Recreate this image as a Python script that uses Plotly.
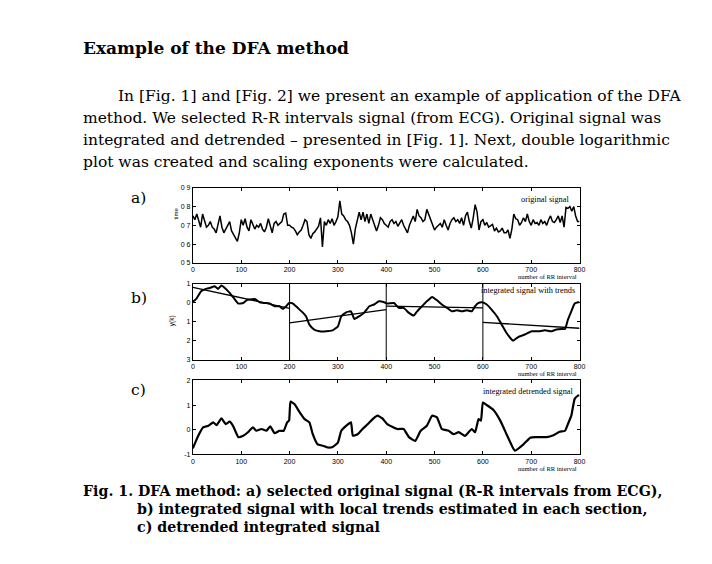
import numpy as np
import plotly.graph_objects as go

W, H = 712, 564
# the page body adds a small margin round the figure
OFF_X, OFF_Y = 8, 9

# a) original signal: R-R interval length, read every 4th interval
rr_step = 4
rr_values = [
    0.75, 0.73, 0.76, 0.72, 0.69, 0.76, 0.72, 0.69, 0.70, 0.72, 0.69, 0.68, 0.66, 0.71, 0.75, 0.69,
    0.66, 0.68, 0.70, 0.72, 0.67, 0.65, 0.63, 0.615, 0.66,
    0.73, 0.70, 0.735, 0.69, 0.67, 0.73, 0.70, 0.68, 0.70, 0.69, 0.71, 0.68, 0.665, 0.69, 0.735, 0.69,
    0.66, 0.71, 0.72, 0.70, 0.71, 0.72, 0.76, 0.765, 0.70,
    0.70, 0.69, 0.685, 0.67, 0.65, 0.665, 0.675, 0.70, 0.73, 0.72, 0.65, 0.63, 0.655, 0.665, 0.68, 0.695,
    0.74, 0.585, 0.72, 0.70, 0.73, 0.71, 0.735, 0.70, 0.72,
    0.745, 0.83, 0.76, 0.75, 0.73, 0.72, 0.70, 0.66, 0.60, 0.68, 0.72, 0.77, 0.73, 0.77, 0.72, 0.76,
    0.71, 0.76, 0.73, 0.70, 0.67, 0.70, 0.74, 0.73, 0.71,
    0.70, 0.69, 0.72, 0.73, 0.71, 0.72, 0.695, 0.71, 0.73, 0.70, 0.68, 0.66, 0.70, 0.73, 0.75, 0.72,
    0.785, 0.75, 0.74, 0.72, 0.73, 0.785, 0.76, 0.73, 0.70,
    0.675, 0.69, 0.70, 0.71, 0.69, 0.73, 0.70, 0.675, 0.71, 0.73, 0.74, 0.72, 0.73, 0.71, 0.74, 0.70,
    0.75, 0.77, 0.72, 0.685, 0.74, 0.81, 0.77, 0.675, 0.72,
    0.73, 0.70, 0.715, 0.69, 0.70, 0.705, 0.67, 0.685, 0.665, 0.67, 0.685, 0.66, 0.66, 0.675, 0.63, 0.68,
    0.76, 0.735, 0.73, 0.70, 0.715, 0.74, 0.72, 0.76, 0.72,
    0.70, 0.73, 0.71, 0.715, 0.70, 0.73, 0.71, 0.72, 0.70, 0.73, 0.75, 0.72, 0.715, 0.73, 0.75, 0.715,
    0.75, 0.69, 0.795, 0.79, 0.80, 0.775, 0.80, 0.75, 0.72, 0.72,
]

# b) integrated signal y(k)
integ_k = [0, 7, 17, 27, 35, 45, 52, 59, 66, 76, 87, 94, 104, 111, 117, 128, 138, 148, 159, 169,
           179, 186, 193, 199, 207, 217, 228, 234, 241, 251, 262, 276, 289, 300, 307, 317, 327, 334,
           344, 354, 365, 375, 385, 396, 402, 416, 426, 436, 447, 457, 464, 474, 484, 495, 505, 515,
           526, 536, 546, 557, 567, 577, 584, 591, 598, 608, 618, 629, 639, 649, 660, 663, 673, 687,
           701, 715, 728, 742, 752, 763, 770, 776, 783, 790, 797, 800]
integ_v = [0.05, 0.2, 0.6, 0.72, 0.77, 0.86, 0.72, 0.9, 0.77, 0.51, 0.16, -0.05, -0.02, 0.12, 0.16,
           0.19, 0.02, -0.02, -0.05, -0.19, -0.19, -0.33, -0.19, -0.02, -0.05, -0.28, -0.54, -0.72,
           -1.16, -1.42, -1.51, -1.51, -1.46, -1.25, -0.72, -0.51, -0.46, -0.86, -0.72, -0.54, -0.19,
           -0.1, 0.07, 0.02, -0.05, -0.02, -0.28, -0.28, -0.54, -0.68, -0.46, -0.19, 0.07, 0.3, 0.12,
           -0.1, -0.28, -0.46, -0.4, -0.46, -0.4, -0.46, -0.19, -0.02, 0.02, -0.1, -0.37, -0.72, -1.16,
           -1.6, -1.95, -2.0, -1.81, -1.68, -1.51, -1.51, -1.46, -1.51, -1.42, -1.39, -1.39, -0.9,
           -0.46, -0.05, 0.02, 0.02]

# local linear trends, one per section
trend_k = [[0, 200], [200, 400], [400, 600], [600, 800]]
trend_v = [[0.8, -0.3], [-1.07, -0.37], [-0.19, -0.28], [-1.04, -1.35]]
section_edges = [200, 400, 600]

# c) integrated detrended signal
detr_k = [0, 2, 11, 21, 32, 42, 49, 59, 68, 76, 83, 94, 104, 114, 124, 131, 142, 152, 160, 169, 179,
          188, 195, 199, 202, 210, 221, 231, 241, 248, 258, 269, 279, 289, 300, 307, 317, 327, 331,
          341, 351, 362, 372, 382, 392, 402, 423, 436, 447, 460, 471, 484, 495, 505, 515, 529, 539,
          550, 563, 577, 584, 591, 596, 600, 608, 622, 636, 649, 660, 666, 684, 698, 711, 732, 746,
          759, 770, 776, 783, 790, 797, 800]
detr_v = [-0.75, -0.65, -0.24, 0.1, 0.16, 0.3, 0.19, 0.46, 0.23, 0.33, 0.16, -0.3, -0.24, -0.1, 0.1,
          -0.04, 0.03, -0.04, 0.14, -0.14, -0.04, -0.04, 0.3, 0.37, 1.14, 1.04, 0.7, 0.43, 0.3, -0.18,
          -0.59, -0.65, -0.72, -0.7, -0.52, -0.04, 0.16, 0.3, -0.24, -0.18, 0.03, 0.23, 0.43, 0.57,
          0.46, 0.23, 0.03, 0.03, -0.3, -0.45, -0.05, 0.16, 0.57, 0.5, 0.03, -0.04, -0.18, -0.1, -0.25,
          0.03, -0.1, 0.43, 0.37, 1.1, 1.0, 0.8, 0.37, -0.18, -0.65, -0.85, -0.59, -0.32, -0.3, -0.3,
          -0.22, -0.08, -0.04, 0.23, 0.57, 1.25, 1.38, 1.4]

x_ticks = [0, 100, 200, 300, 400, 500, 600, 700, 800]
a_yticks = [0.5, 0.6, 0.7, 0.8, 0.9]
a_yticktext = ["0 5", "0 6", "0 7", "0 8", "0 9"]
b_yticks = [-3, -2, -1, 0, 1]
b_yticktext = ["3", "2", "1", "0", "1"]
c_yticks = [-1, 0, 1, 2]
c_yticktext = ["-1", "0", "1", "2"]

title_text = "Example of the DFA method"
body_lines = [
    "In [Fig. 1] and [Fig. 2] we present an example of application of the DFA",
    "method. We selected R-R intervals signal (from ECG). Original signal was",
    "integrated and detrended \u2013 presented in [Fig. 1]. Next, double logarithmic",
    "plot was created and scaling exponents were calculated.",
]
caption_lines = [
    "Fig. 1. DFA method: a) selected original signal (R-R intervals from ECG),",
    "b) integrated signal with local trends estimated in each section,",
    "c) detrended integrated signal",
]


def px(x):
    return (x - OFF_X) / W


def py(y):
    return 1 - (y - OFF_Y) / H


SERIF = "DejaVu Serif"
SANS = "Liberation Sans"

fig = go.Figure()

rr_k = np.arange(len(rr_values)) * rr_step
fig.add_trace(go.Scatter(x=rr_k, y=rr_values, mode="lines", xaxis="x", yaxis="y",
                         line=dict(color="black", width=1.5)))
fig.add_trace(go.Scatter(x=integ_k, y=integ_v, mode="lines", xaxis="x2", yaxis="y2",
                         line=dict(color="black", width=2, shape="spline", smoothing=0.4)))
for k, v in zip(trend_k, trend_v):
    fig.add_trace(go.Scatter(x=k, y=v, mode="lines", xaxis="x2", yaxis="y2",
                             line=dict(color="black", width=1.3)))
fig.add_trace(go.Scatter(x=detr_k, y=detr_v, mode="lines", xaxis="x3", yaxis="y3",
                         line=dict(color="black", width=2.2, shape="spline", smoothing=0.4)))

for e in section_edges:
    fig.add_shape(type="line", xref="x2", yref="y2 domain", x0=e, x1=e, y0=0, y1=1,
                  line=dict(color="black", width=1))

x_dom = [px(193), px(584)]
tick_font = dict(family=SANS, size=7, color="black")
ax_common = dict(showline=True, linecolor="black", linewidth=1, mirror="ticks", ticks="inside",
                 ticklen=3, tickcolor="black", showgrid=False, zeroline=False, tickfont=tick_font)

panels = [
    ("", "y", [py(263), py(187)], [0.5, 0.9], a_yticks, a_yticktext),
    ("2", "y2", [py(361), py(284)], [-3, 1], b_yticks, b_yticktext),
    ("3", "y3", [py(457), py(382)], [-1, 2], c_yticks, c_yticktext),
]
layout_axes = {}
for suffix, yname, ydom, yrange, yt, ytt in panels:
    layout_axes["xaxis" + suffix] = dict(domain=x_dom, range=[0, 800], tickvals=x_ticks,
                                         anchor=yname, **ax_common)
    layout_axes["yaxis" + suffix] = dict(domain=ydom, range=yrange, tickvals=yt, ticktext=ytt,
                                         anchor="x" + suffix, **ax_common)

ann = []


def text(x, y, s, size, family=SERIF, anchor="left", angle=0):
    ann.append(dict(x=px(x), y=py(y), xref="paper", yref="paper", text=s, showarrow=False,
                    xanchor=anchor, yanchor="middle", textangle=angle, borderpad=0,
                    font=dict(family=family, size=size, color="black")))


text(81, 45, "<b>" + title_text + "</b>", 17)
text(116, 94, body_lines[0], 15.5)
for i, line in enumerate(body_lines[1:]):
    text(81, 116.5 + 22.3 * i, line, 15.5)

text(129, 197, "a)", 15.5)
text(129, 299, "b)", 15.5)
text(129, 392, "c)", 15.5)

text(574, 199, "original signal", 8.3, family="Liberation Serif", anchor="right")
text(580, 291, "integrated signal with trends", 8.3, family="Liberation Serif", anchor="right")
text(579, 393, "integrated detrended signal", 8.3, family="Liberation Serif", anchor="right")
for yy in (277, 375, 471):
    text(582, yy, "number of RR interval", 6.5, family="Liberation Serif", anchor="right")

text(176, 213, "time", 6, family=SANS, anchor="center", angle=-90)
text(172, 322, "y(k)", 6.5, family=SANS, anchor="center", angle=-90)

text(81, 494, "<b>" + caption_lines[0] + "</b>", 14.2)
text(135, 512, "<b>" + caption_lines[1] + "</b>", 14.2)
text(135, 530, "<b>" + caption_lines[2] + "</b>", 14.2)

fig.update_layout(width=W, height=H, margin=dict(l=0, r=0, t=0, b=0), showlegend=False,
                  paper_bgcolor="white", plot_bgcolor="white", annotations=ann, **layout_axes)

fig.write_html("out.html")
